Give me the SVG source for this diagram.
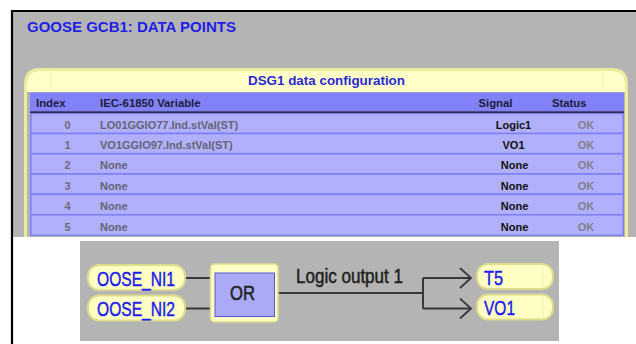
<svg xmlns="http://www.w3.org/2000/svg" width="636" height="344" viewBox="0 0 636 344">
  <defs>
    <style>
      .title { font-family: "Liberation Sans", Arial, sans-serif; font-weight: bold; font-size: 15px; fill: #1f1fe6; }
      .cap { font-family: "Liberation Sans", Arial, sans-serif; font-weight: bold; font-size: 13.4px; fill: #2a2ad6; }
      .hdr { font-family: "Liberation Sans", Arial, sans-serif; font-weight: bold; font-size: 11.3px; fill: #1c1c3c; }
      .idx { font-family: "Liberation Sans", Arial, sans-serif; font-weight: bold; font-size: 11px; fill: #6c6c7c; text-anchor: middle; }
      .var { font-family: "Liberation Sans", Arial, sans-serif; font-weight: bold; font-size: 11px; fill: #646474; }
      .sig { font-family: "Liberation Sans", Arial, sans-serif; font-weight: bold; font-size: 11px; fill: #101010; text-anchor: middle; }
      .ok { font-family: "Liberation Sans", Arial, sans-serif; font-weight: bold; font-size: 11px; fill: #808088; text-anchor: middle; }
      .row { fill: #b0b0fc; stroke: #7e7ef6; stroke-width: 1.5; }
      .pill { fill: #ffffc4; stroke: #dcdc8c; stroke-width: 2; }
      .pilltxt { font-family: "Liberation Sans", Arial, sans-serif; font-size: 21px; fill: #1c1cee; stroke: #1c1cee; stroke-width: 0.5; }
      .lbl { font-family: "Liberation Sans", Arial, sans-serif; font-size: 20.5px; fill: #202020; stroke: #202020; stroke-width: 0.5; }
      .wire { fill: none; stroke: #383838; stroke-width: 2; }
    </style>
    <marker id="chev" markerUnits="userSpaceOnUse" markerWidth="14" markerHeight="24" refX="12" refY="11" orient="auto">
      <path d="M1,1 L12,11 L1,21" fill="none" stroke="#383838" stroke-width="1.8"/>
    </marker>
  </defs>

  <!-- page background -->
  <rect x="0" y="0" width="636" height="344" fill="#ffffff"/>

  <!-- window frame with gray client area -->
  <rect x="13" y="12" width="623" height="225" fill="#b4b4b4"/>
  <path d="M12,344 V11 H636" fill="none" stroke="#000000" stroke-width="2.2"/>

  <text class="title" x="27" y="31.5">GOOSE GCB1: DATA POINTS</text>

  <!-- data configuration panel -->
  <g id="panel">
    <path d="M25.5,237 V84 Q25.5,69.5 40,69.5 H612 Q626.5,69.5 626.5,84 V237" fill="#b4b4b4" stroke="#ecec9c" stroke-width="3"/>
    <path d="M27,92 V84 Q27,71 40,71 H612 Q625,71 625,84 V92 Z" fill="#ffffc8"/>
    <line x1="51" y1="71" x2="51" y2="92" stroke="#f0f0c0" stroke-width="1"/>
    <line x1="603" y1="71" x2="603" y2="92" stroke="#f0f0c0" stroke-width="1"/>
    <text class="cap" x="326.5" y="85" text-anchor="middle">DSG1 data configuration</text>
  </g>

  <!-- table header -->
  <g id="table-header">
    <rect x="30" y="92.5" width="594" height="19.5" fill="#8282f8"/>
    <line x1="30" y1="112.5" x2="624" y2="112.5" stroke="#101010" stroke-width="2"/>
    <text class="hdr" x="36" y="107">Index</text>
    <text class="hdr" x="100" y="107">IEC-61850 Variable</text>
    <text class="hdr" x="478.5" y="107">Signal</text>
    <text class="hdr" x="552" y="107">Status</text>
  </g>

  <!-- table rows -->
  <g id="row-0">
    <rect class="row" x="30.75" y="113.5" width="592.5" height="20"/>
    <text class="idx" x="67.5" y="129">0</text>
    <text class="var" x="100" y="129">LO01GGIO77.Ind.stVal(ST)</text>
    <text class="sig" x="513.5" y="129">Logic1</text>
    <text class="ok" x="586" y="129">OK</text>
  </g>
  <g id="row-1">
    <rect class="row" x="30.75" y="133.5" width="592.5" height="20.2"/>
    <text class="idx" x="67.5" y="149">1</text>
    <text class="var" x="100" y="149">VO1GGIO97.Ind.stVal(ST)</text>
    <text class="sig" x="513.5" y="149">VO1</text>
    <text class="ok" x="586" y="149">OK</text>
  </g>
  <g id="row-2">
    <rect class="row" x="30.75" y="153.7" width="592.5" height="20.3"/>
    <text class="idx" x="67.5" y="169.3">2</text>
    <text class="var" x="100" y="169.3">None</text>
    <text class="sig" x="514.5" y="169.3">None</text>
    <text class="ok" x="586" y="169.3">OK</text>
  </g>
  <g id="row-3">
    <rect class="row" x="30.75" y="174" width="592.5" height="20.3"/>
    <text class="idx" x="67.5" y="189.6">3</text>
    <text class="var" x="100" y="189.6">None</text>
    <text class="sig" x="514.5" y="189.6">None</text>
    <text class="ok" x="586" y="189.6">OK</text>
  </g>
  <g id="row-4">
    <rect class="row" x="30.75" y="194.3" width="592.5" height="20.5"/>
    <text class="idx" x="67.5" y="210">4</text>
    <text class="var" x="100" y="210">None</text>
    <text class="sig" x="514.5" y="210">None</text>
    <text class="ok" x="586" y="210">OK</text>
  </g>
  <g id="row-5">
    <rect class="row" x="30.75" y="214.8" width="592.5" height="20.5"/>
    <text class="idx" x="67.5" y="230.5">5</text>
    <text class="var" x="100" y="230.5">None</text>
    <text class="sig" x="514.5" y="230.5">None</text>
    <text class="ok" x="586" y="230.5">OK</text>
  </g>

  <!-- logic scheme -->
  <rect x="80" y="241" width="479" height="100" fill="#b4b4b4"/>

  <g id="connectors">
    <path class="wire" d="M185,278 H211"/>
    <path class="wire" d="M185,308.5 H211"/>
    <path class="wire" d="M278,293 H423"/>
    <path class="wire" d="M423,278 V308.5"/>
    <path class="wire" d="M423,278 H471" marker-end="url(#chev)"/>
    <path class="wire" d="M423,308.5 H471" marker-end="url(#chev)"/>
    <text class="lbl" x="296" y="283" textLength="107" lengthAdjust="spacingAndGlyphs">Logic output 1</text>
  </g>

  <g id="in-1">
    <rect class="pill" x="88" y="265" width="97" height="25" rx="11"/>
    <text class="pilltxt" x="97" y="285.5" textLength="78" lengthAdjust="spacingAndGlyphs">OOSE_NI1</text>
  </g>
  <g id="in-2">
    <rect class="pill" x="88" y="295.5" width="97" height="25" rx="11"/>
    <text class="pilltxt" x="97" y="315.5" textLength="78" lengthAdjust="spacingAndGlyphs">OOSE_NI2</text>
  </g>

  <g id="or-gate">
    <rect x="210.5" y="264" width="67.5" height="58" rx="4" fill="#ffffc4" stroke="#dcdc8c" stroke-width="1.5"/>
    <rect x="215" y="273" width="59.5" height="43.5" fill="#aaaaf8" stroke="#5a5ad0" stroke-width="1"/>
    <text class="lbl" x="230" y="300" textLength="25" lengthAdjust="spacingAndGlyphs">OR</text>
  </g>

  <g id="out-t5">
    <rect class="pill" x="477" y="264" width="76" height="25" rx="11"/>
    <line x1="543" y1="266" x2="543" y2="287" stroke="#efefb4" stroke-width="1"/>
    <text class="pilltxt" x="484" y="285" textLength="19" lengthAdjust="spacingAndGlyphs">T5</text>
  </g>
  <g id="out-vo1">
    <rect class="pill" x="477" y="294.5" width="76" height="25" rx="11"/>
    <line x1="543" y1="296.5" x2="543" y2="317.5" stroke="#efefb4" stroke-width="1"/>
    <text class="pilltxt" x="484" y="315" textLength="31" lengthAdjust="spacingAndGlyphs">VO1</text>
  </g>
</svg>
